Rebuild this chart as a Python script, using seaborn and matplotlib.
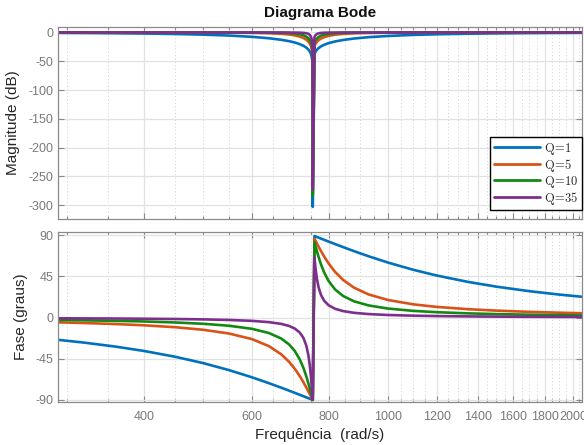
import matplotlib
matplotlib.use("Agg")
import matplotlib.pyplot as plt
from matplotlib.ticker import FixedLocator, NullLocator, NullFormatter
import pandas as pd
import seaborn as sns

sns.set_style("ticks")
plt.rcParams["font.family"] = ["Liberation Sans", "DejaVu Sans"]
plt.rcParams["mathtext.fontset"] = "cm"

# Frequency samples (rad/s), shared by every curve; notch at 754 rad/s
freq = [290, 320, 360, 400, 450, 500, 550, 600, 640, 670, 690, 705, 718, 728,
        736, 742, 746, 749, 751.5, 753, 753.8, 754, 758.9, 762, 766, 771, 778,
        787, 800, 820, 845, 880, 930, 1000, 1100, 1200, 1350, 1500, 1700, 1900,
        2070]

series = ["Q=1", "Q=5", "Q=10", "Q=35"]

# Magnitude (dB)
mag_q1 = [-0.81, -1.03, -1.41, -1.89, -2.69, -3.80, -5.35, -7.57, -10.10, -12.75,
          -15.14, -17.50, -20.23, -23.10, -26.33, -29.88, -33.42, -37.52, -43.55,
          -51.52, -65.51, -303.0, -37.75, -33.51, -30.01, -27.02, -24.08, -21.37,
          -18.59, -15.61, -13.05, -10.56, -8.19, -6.08, -4.27, -3.18, -2.20, -1.62,
          -1.16, -0.87, -0.71]
mag_q5 = [-0.04, -0.05, -0.07, -0.09, -0.15, -0.24, -0.40, -0.75, -1.36, -2.34,
          -3.55, -5.06, -7.14, -9.60, -12.58, -16.00, -19.49, -23.56, -29.58,
          -37.54, -51.53, -280.0, -23.79, -19.58, -16.14, -13.25, -10.49, -8.09,
          -5.85, -3.83, -2.47, -1.51, -0.88, -0.50, -0.28, -0.18, -0.11, -0.08,
          -0.05, -0.04, -0.03]
mag_q10 = [-0.01, -0.01, -0.02, -0.02, -0.04, -0.06, -0.10, -0.20, -0.38, -0.71,
           -1.19, -1.91, -3.10, -4.81, -7.23, -10.30, -13.61, -17.60, -23.57,
           -31.52, -45.51, -283.0, -17.82, -13.70, -10.42, -7.80, -5.50, -3.73,
           -2.34, -1.32, -0.76, -0.43, -0.24, -0.13, -0.07, -0.05, -0.03, -0.02,
           -0.01, -0.01, -0.01]
mag_q35 = [0.0, 0.0, 0.0, 0.0, 0.0, -0.01, -0.01, -0.02, -0.03, -0.06,
           -0.11, -0.19, -0.36, -0.67, -1.30, -2.54, -4.46, -7.49, -12.90,
           -20.68, -34.63, -273.0, -7.68, -4.52, -2.60, -1.49, -0.82, -0.46,
           -0.25, -0.12, -0.07, -0.04, -0.02, -0.01, -0.01, 0.0, 0.0, 0.0,
           0.0, 0.0, 0.0]

# Phase (degrees)
ph_q1 = [-24.29, -27.37, -31.73, -36.44, -42.83, -49.80, -57.32, -65.26, -71.77,
         -76.68, -79.92, -82.34, -84.41, -85.98, -87.23, -88.16, -88.78, -89.24,
         -89.62, -89.85, -89.97, -90.0, 89.26, 88.79, 88.19, 87.45, 86.41, 85.10,
         83.24, 80.46, 77.14, 72.76, 67.09, 60.22, 52.28, 46.07, 39.07, 33.92,
         28.90, 25.22, 22.78]
ph_q5 = [-5.16, -5.91, -7.05, -8.40, -10.50, -13.32, -17.32, -23.46, -31.27,
         -40.18, -48.38, -56.07, -63.92, -70.66, -76.42, -80.89, -83.91, -86.19,
         -88.10, -89.24, -89.85, -90.0, 86.29, 83.98, 81.03, 77.43, 72.60, 66.81,
         59.35, 49.96, 41.21, 32.81, 25.32, 19.27, 14.50, 11.73, 9.22, 7.66,
         6.30, 5.38, 4.80]
ph_q10 = [-2.58, -2.96, -3.54, -4.22, -5.30, -6.75, -8.86, -12.24, -16.89,
          -22.89, -29.37, -36.62, -45.61, -54.93, -64.21, -72.21, -77.96, -82.42,
          -86.20, -88.48, -89.70, -90.0, 82.62, 78.08, 72.47, 65.96, 57.92, 49.43,
          40.16, 30.76, 23.65, 17.86, 13.31, 9.91, 7.37, 5.93, 4.64, 3.85,
          3.16, 2.70, 2.40]
ph_q35 = [-0.74, -0.85, -1.01, -1.21, -1.52, -1.94, -2.55, -3.55, -4.96,
          -6.88, -9.13, -11.99, -16.27, -22.15, -30.59, -41.68, -53.25, -65.03,
          -76.91, -84.69, -88.94, -90.0, 65.61, 53.54, 42.14, 32.65, 24.51, 18.44,
          13.55, 9.65, 7.13, 5.26, 3.87, 2.86, 2.12, 1.70, 1.33, 1.10,
          0.90, 0.77, 0.69]

x_major = [400, 600, 800, 1000, 1200, 1400, 1600, 1800, 2000]
x_minor = [f for f in range(300, 2100, 50) if f not in x_major]
mag_ticks = [0, -50, -100, -150, -200, -250, -300]
ph_ticks = [90, 45, 0, -45, -90]

colors = ["#0072BD", "#D95319", "#128A12", "#7E2F8E"]
labels = [r"$\mathrm{Q}\!=\!\mathrm{1}$", r"$\mathrm{Q}\!=\!\mathrm{5}$",
          r"$\mathrm{Q}\!=\!\mathrm{10}$", r"$\mathrm{Q}\!=\!\mathrm{35}$"]

mags = [mag_q1, mag_q5, mag_q10, mag_q35]
phases = [ph_q1, ph_q5, ph_q10, ph_q35]
frames = []
for lab, m, p in zip(labels, mags, phases):
    frames.append(pd.DataFrame({"freq": freq, "mag": m, "phase": p, "serie": lab}))
df = pd.concat(frames, ignore_index=True)

fig = plt.figure(figsize=(5.84, 4.45), dpi=100)
W, H = 584.0, 445.0
ax1 = fig.add_axes([58 / W, 1 - 219 / H, 524 / W, 192.3 / H])
ax2 = fig.add_axes([58 / W, 1 - 401.7 / H, 524 / W, 170 / H])

for ax in (ax1, ax2):
    ax.set_xscale("log")

palette = dict(zip(labels, colors))
sns.lineplot(data=df, x="freq", y="mag", hue="serie", hue_order=labels,
             palette=palette, estimator=None, sort=False, linewidth=1.9, ax=ax1)
sns.lineplot(data=df, x="freq", y="phase", hue="serie", hue_order=labels,
             palette=palette, estimator=None, sort=False, linewidth=1.9,
             legend=False, ax=ax2)

spine_c = "#8a8a8a"
tick_c = "#7a7a7a"
for ax in (ax1, ax2):
    ax.set_xlim(290, 2070)
    ax.xaxis.set_major_locator(FixedLocator(x_major))
    ax.xaxis.set_minor_locator(FixedLocator(x_minor))
    ax.xaxis.set_minor_formatter(NullFormatter())
    ax.yaxis.set_minor_locator(NullLocator())
    ax.set_axisbelow(True)
    ax.grid(which="major", color="#e2e2e2", linewidth=0.9, linestyle="-")
    ax.grid(which="minor", axis="x", color="#d0d0d0", linewidth=0.7,
            linestyle=(0, (1, 2.5)))
    ax.tick_params(which="both", direction="in", top=True, right=True,
                   color=spine_c, labelcolor=tick_c, labelsize=9, width=0.8)
    ax.tick_params(which="major", length=4)
    ax.tick_params(which="minor", length=2.5)
    for s in ax.spines.values():
        s.set_color(spine_c)
        s.set_linewidth(0.9)

ax1.set_ylim(-324, 10)
ax1.set_yticks(mag_ticks)
ax1.set_yticklabels([str(t) for t in mag_ticks])
ax1.tick_params(axis="x", labelbottom=False)
ax1.set_xlabel("")
ax1.set_ylabel("Magnitude (dB)", fontsize=11, color="#262626", labelpad=6)
ax1.set_title("Diagrama Bode", fontsize=11, fontweight="bold", color="#111111",
              pad=7)

ax2.set_ylim(-92, 94)
ax2.set_yticks(ph_ticks)
ax2.set_yticklabels([str(t) for t in ph_ticks])
ax2.set_xticklabels([str(t) for t in x_major])
ax2.tick_params(axis="x", pad=7)
ax2.set_xlabel("Frequência  (rad/s)", fontsize=11, color="#262626", labelpad=3)
ax2.set_ylabel("Fase (graus)", fontsize=11, color="#262626", labelpad=5)

handles, labs = ax1.get_legend_handles_labels()
leg = ax1.legend(handles, labs, loc="lower right", bbox_to_anchor=(1.0, 0.045),
                 borderaxespad=0, frameon=True, fancybox=False, framealpha=1,
                 edgecolor="black", fontsize=9, handlelength=3.7,
                 handletextpad=0.3, labelspacing=0.0, borderpad=0.3)
leg.get_frame().set_linewidth(1.0)
for line in leg.get_lines():
    line.set_linewidth(2.0)

fig.savefig("out.png", dpi=100)
